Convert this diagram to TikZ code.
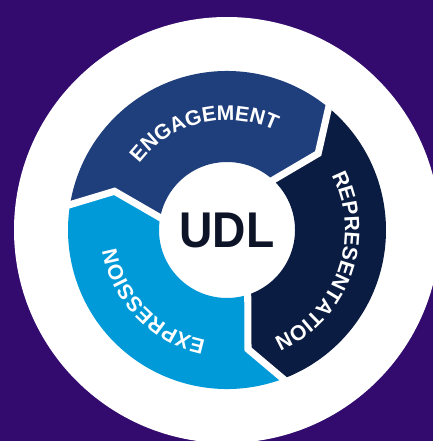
\documentclass[tikz,border=0pt]{standalone}
\usepackage{fontspec}
\setmainfont{Liberation Sans}
\usepackage{graphicx}
\usetikzlibrary{decorations.text}
\definecolor{bgpurple}{RGB}{51,10,110}
\definecolor{engage}{RGB}{31,62,124}
\definecolor{repres}{RGB}{11,28,66}
\definecolor{express}{RGB}{0,154,217}
\definecolor{udltext}{RGB}{14,20,40}
\newcommand\segfont{\fontsize{21}{21}\selectfont\bfseries}

\begin{document}
\begin{tikzpicture}[x=0.035cm, y=0.035cm]
% TikZ styles
\tikzset{
  gap/.style={draw=white, line width=7pt},
  seglabel/.style={decorate, decoration={text along path, text align=center, text color=white, text={|\segfont|#1}}},
  center/.style={font=\fontsize{50}{50}\selectfont\bfseries, text=udltext, inner sep=0pt}
};
%==========================
% Hintergrund
%==========================
\fill[bgpurple] (-227,-211) rectangle (206,230);
\useasboundingbox (-227,-211) rectangle (206,230);
\clip (-227,-211) rectangle (206,230);
\fill[white] (0,0) circle[radius=213];

%==========================
% Ring mit drei Segmenten
%==========================
\fill[engage] (172:159) arc[start angle=172, end angle=51.5, radius=159] -- (40:119) -- (49:68) arc[start angle=49, end angle=171.5, radius=68] -- (161:119) -- cycle;
\fill[repres] (51.5:159) arc[start angle=51.5, end angle=-68, radius=159] -- (-80:121) -- (-70.5:68) arc[start angle=-70.5, end angle=49, radius=68] -- (40:119) -- cycle;
\fill[express] (-68:159) arc[start angle=-68, end angle=-188, radius=159] -- (161:119) -- (171.5:68) arc[start angle=171.5, end angle=289.5, radius=68] -- (-80:121) -- cycle;

% === Luecken ===
\draw[gap] (172:166) -- (161:119) -- (171.5:62);
\draw[gap] (51.5:166) -- (40:119) -- (49:62);
\draw[gap] (-68:166) -- (-80:121) -- (-70.5:62);

% === Beschriftung ===
\path[seglabel=ENGAGEMENT] (158.5:110) arc[start angle=158.5, end angle=48.5, radius=110];
\path[seglabel=REPRESENTATION] (35.5:118) arc[start angle=35.5, end angle=-74.5, radius=118];
\path[seglabel=EXPRESSION] (-81:112) arc[start angle=-81, end angle=-191, radius=112];

\node[center] (udl) at (0,0) {\scalebox{0.92}[1]{UDL}};
\end{tikzpicture}
\end{document}
